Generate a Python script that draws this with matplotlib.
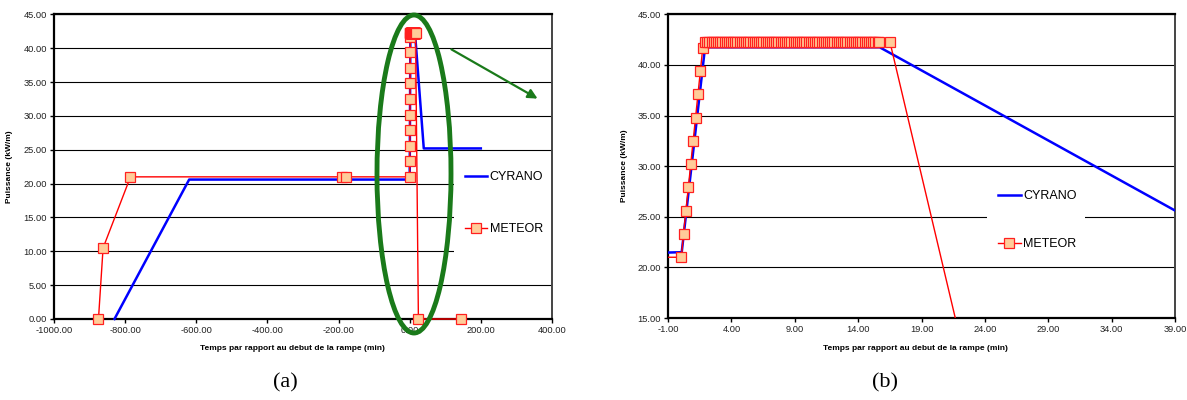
import matplotlib
matplotlib.use("Agg")
import matplotlib.pyplot as plt
from matplotlib.patches import Ellipse, Rectangle, FancyArrowPatch

plt.rcParams['font.family'] = ['Liberation Sans', 'DejaVu Sans']

# CYRANO (blue line) - time in min, power in kW/m
CYRANO_T = [-830, -620, -5, -1.5, 0.08, 1.92, 15.7, 39.6, 200]
CYRANO_P = [0.0, 20.6, 20.6, 21.45, 21.5, 41.74, 41.74, 25.2, 25.2]

# METEOR (red line + square markers): pre-ramp and ramp points
METEOR_RAMP_T = [-875, -862, -785, -190, -180,
                 0.05, 0.22, 0.41, 0.60, 0.79, 0.98, 1.17, 1.36, 1.55, 1.74]
METEOR_RAMP_P = [0.0, 10.5, 21.0, 21.0, 21.0,
                 21.0, 23.3, 25.6, 27.9, 30.2, 32.5, 34.8, 37.1, 39.4, 41.7]

# plateau markers (all read at 42.3 kW/m)
METEOR_HOLD_T = [1.93, 2.10, 2.27, 2.44, 2.61, 2.78, 2.95, 3.12, 3.29, 3.46,
                 3.63, 3.80, 3.97, 4.14, 4.31, 4.48, 4.65, 4.82, 4.99, 5.16,
                 5.33, 5.50, 5.67, 5.84, 6.01, 6.18, 6.35, 6.52, 6.69, 6.86,
                 7.03, 7.20, 7.37, 7.54, 7.71, 7.88, 8.05, 8.22, 8.39, 8.56,
                 8.73, 8.90, 9.07, 9.24, 9.41, 9.58, 9.75, 9.92, 10.09, 10.26,
                 10.43, 10.60, 10.77, 10.94, 11.11, 11.28, 11.45, 11.62, 11.79, 11.96,
                 12.13, 12.30, 12.47, 12.64, 12.81, 12.98, 13.15, 13.32, 13.49, 13.66,
                 13.83, 14.00, 14.17, 14.34, 14.51, 14.68, 14.85, 15.02, 15.19, 15.36,
                 15.53, 15.65, 16.50]
METEOR_HOLD_P = [42.3] * len(METEOR_HOLD_T)

# after the power drop
METEOR_END_T = [24.5, 145]
METEOR_END_P = [0.0, 0.0]

XTICKS_A = [-1000, -800, -600, -400, -200, 0, 200, 400]
YTICKS_A = [0, 5, 10, 15, 20, 25, 30, 35, 40, 45]
XTICKS_B = [-1, 4, 9, 14, 19, 24, 29, 34, 39]
YTICKS_B = [15, 20, 25, 30, 35, 40, 45]

XLABEL = "Temps par rapport au debut de la rampe (min)"
YLABEL = "Puissance (kW/m)"


def style_axes(ax, xticks, yticks):
    ax.set_xlim(xticks[0], xticks[-1])
    ax.set_ylim(yticks[0], yticks[-1])
    ax.set_xticks(xticks)
    ax.set_xticklabels([f"{v:.2f}" for v in xticks])
    ax.set_yticks(yticks)
    ax.set_yticklabels([f"{v:.2f}" for v in yticks])
    ax.yaxis.grid(True, color='black', lw=0.8)
    ax.set_axisbelow(True)
    for side in ['left', 'bottom', 'top']:
        ax.spines[side].set_linewidth(1.6)
        ax.spines[side].set_color('black')
    ax.spines['right'].set_linewidth(1.4)
    ax.spines['right'].set_color('#444444')
    ax.tick_params(direction='out', length=3, width=1, labelsize=6.7,
                   pad=2, labelcolor='#222222')


def draw_series(ax, clip):
    meteor_t = METEOR_RAMP_T + METEOR_HOLD_T + METEOR_END_T
    meteor_p = METEOR_RAMP_P + METEOR_HOLD_P + METEOR_END_P
    ax.plot(CYRANO_T, CYRANO_P, color='#0000FF', lw=1.8, label='CYRANO',
            clip_on=clip, zorder=3)
    ax.plot(meteor_t, meteor_p, color='#FF0000', lw=1.0, marker='s', ms=6.5,
            mfc='#FFCC99', mec='#FF2020', mew=0.9, label='METEOR',
            clip_on=clip, zorder=4)


def add_legend(ax, box, anchor, spacing):
    # white box hiding the gridlines behind the legend
    ax.add_patch(Rectangle(box[:2], box[2], box[3], transform=ax.transAxes,
                           facecolor='white', edgecolor='none', zorder=2))
    ax.legend(loc='center left', bbox_to_anchor=anchor, frameon=False,
              fontsize=9, labelspacing=spacing, handlelength=1.8,
              handletextpad=0.2, borderpad=0, borderaxespad=0)


def main():
    fig = plt.figure(figsize=(11.87, 4.0), dpi=100)

    ax_a = fig.add_axes([0.0455, 0.2025, 0.4195, 0.7615])
    style_axes(ax_a, XTICKS_A, YTICKS_A)
    draw_series(ax_a, clip=False)
    add_legend(ax_a, (0.803, 0.161, 0.197, 0.387), (0.825, 0.381), 3.2)
    ax_a.set_ylabel(YLABEL, fontsize=6, fontweight='bold')
    ax_a.yaxis.set_label_coords(-41 / 498, 0.5)

    ax_b = fig.add_axes([0.5628, 0.205, 0.4271, 0.7593])
    style_axes(ax_b, XTICKS_B, YTICKS_B)
    draw_series(ax_b, clip=True)
    add_legend(ax_b, (0.629, 0.224, 0.193, 0.197), (0.651, 0.3225), 2.9)
    ax_b.set_ylabel(YLABEL, fontsize=6, fontweight='bold')
    ax_b.yaxis.set_label_coords(-40 / 507, 0.5)

    for xc in [292, 915]:
        fig.text(xc / 1187, 1 - 348 / 400, XLABEL, fontsize=6,
                 fontweight='bold', ha='center', va='center')

    fig.text(285 / 1187, 1 - 383 / 400, "(a)", fontsize=16,
             family='Liberation Serif', ha='center', va='center')
    fig.text(885 / 1187, 1 - 383 / 400, "(b)", fontsize=16,
             family='Liberation Serif', ha='center', va='center')

    # green highlight on panel (a)
    fig.add_artist(Ellipse((414 / 1187, 1 - 174 / 400), 74 / 1187, 318 / 400,
                           transform=fig.transFigure, fill=False,
                           edgecolor='#1A7A1A', lw=3.5, zorder=10))
    fig.add_artist(FancyArrowPatch((449 / 1187, 1 - 48 / 400),
                                   (540 / 1187, 1 - 100 / 400),
                                   transform=fig.transFigure,
                                   arrowstyle='-|>', mutation_scale=14,
                                   color='#1A7A1A', lw=1.6, zorder=10))

    fig.savefig("out.png", dpi=100)


if __name__ == "__main__":
    main()
